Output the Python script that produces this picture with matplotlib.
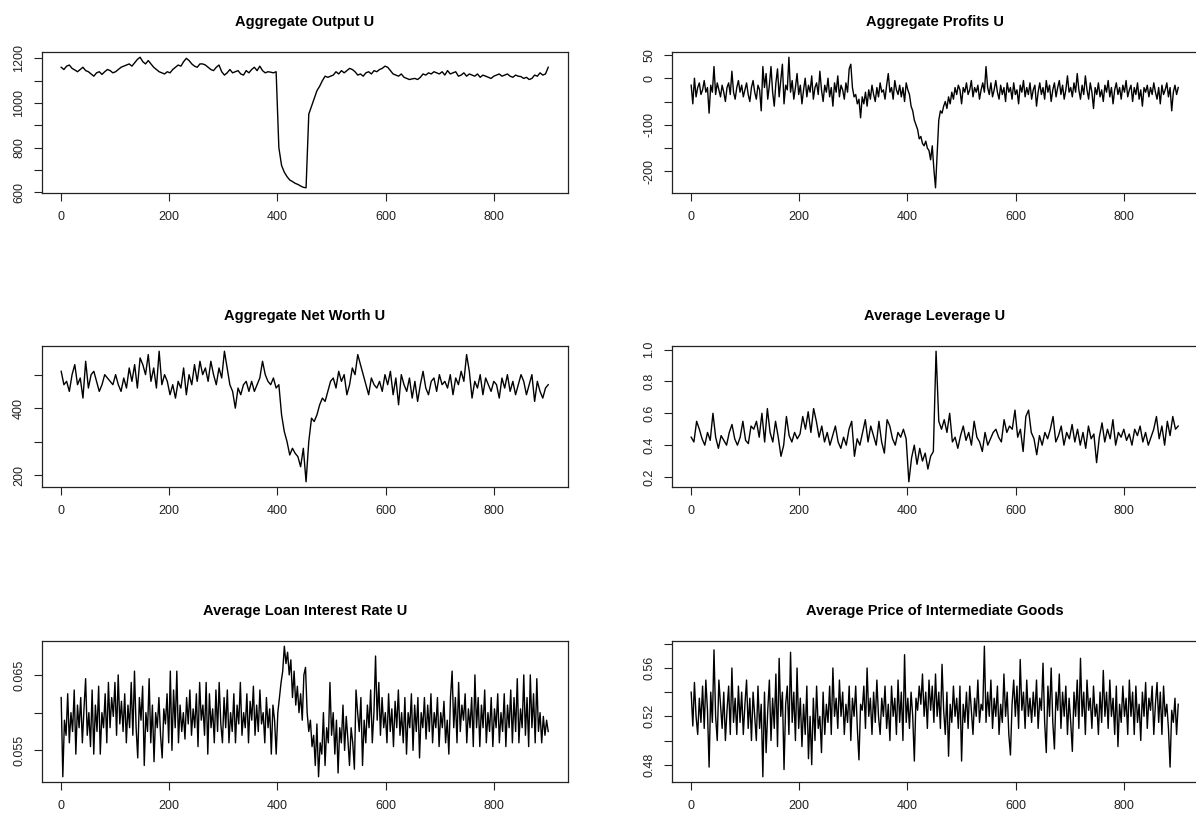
import numpy as np
import matplotlib
matplotlib.use("Agg")
import matplotlib.pyplot as plt
from matplotlib.ticker import FixedLocator, FixedFormatter

plt.rcParams['font.family'] = ['Liberation Sans', 'DejaVu Sans']

# ---------------- data ----------------
# one value per ~5 periods
output_vals = [
    1160, 1150, 1165, 1170, 1155, 1148, 1140, 1150, 1160, 1145,
    1140, 1130, 1120, 1135, 1140, 1128, 1140, 1150, 1145, 1135,
    1140, 1150, 1160, 1165, 1170, 1175, 1165, 1180, 1195, 1205,
    1185, 1175, 1190, 1175, 1160, 1150, 1140, 1135, 1130, 1140,
    1135, 1150, 1160, 1170, 1165, 1185, 1200, 1190, 1175, 1165,
    1160, 1175, 1175, 1170, 1160, 1150, 1145, 1160, 1170, 1140,
    1125, 1135, 1150, 1135, 1140, 1145, 1130, 1125, 1145, 1135,
    1150, 1160, 1145, 1165, 1145, 1135, 1140, 1138, 1135, 1140,
    800, 720, 690, 670, 655, 648, 640, 635, 628, 622,
    620, 950, 985, 1020, 1055, 1075, 1100, 1120, 1115, 1120,
    1125, 1140, 1130, 1145, 1135, 1145, 1155, 1150, 1140, 1125,
    1130, 1120, 1135, 1140, 1130, 1145, 1140, 1150, 1155, 1165,
    1160, 1145, 1130, 1125, 1120, 1130, 1115, 1110, 1105, 1108,
    1110, 1105, 1115, 1130, 1125, 1135, 1130, 1140, 1135, 1130,
    1140, 1125, 1145, 1130, 1135, 1140, 1120, 1125, 1135, 1120,
    1130, 1125, 1120, 1130, 1115, 1125, 1120, 1115, 1110, 1120,
    1125, 1130, 1120, 1125, 1130, 1120, 1115, 1125, 1120, 1118,
    1110, 1115, 1105, 1110, 1125, 1120, 1135, 1125, 1130, 1160,
]

# one value per ~3 periods
profits_vals = [
    -15, -55, 0, -40, -20, -10, -35, -25, -5, -30, -20, -75, -15, -30, 25,
    -35, -10, -25, -40, -15, -30, -50, -20, -10, -35, 15, -30, -45, -20, -5,
    -30, -15, -40, -25, -10, -35, -50, -20, -5, -30, -45, -15, -25, -70, 25,
    -20, 10, -45, -15, 25, -30, -60, -10, 20, -40, -5, 30, -55, -15, -25,
    45, -30, -5, -45, -20, 10, -35, -15, -55, -25, 0, -40, -15, -30, 5,
    -45, -20, -10, -35, 15, -25, -50, -15, -30, 0, -40, -20, -60, -10, -30,
    5, -40, -15, -25, -45, -10, -30, 20, 30, -20, -40, -35, -55, -45, -85,
    -40, -55, -30, -60, -25, -45, -15, -35, -50, -20, -40, -10, -30, -25, -45,
    -15, 10, -30, -20, -45, -5, -25, -35, -15, -40, -20, -50, -10, -25, -35,
    -60, -70, -90, -100, -110, -130, -125, -140, -145, -135, -150, -155, -175, -145, -195,
    -235, -160, -90, -70, -75, -60, -50, -65, -40, -55, -30, -45, -20, -35, -15,
    -25, -55, -20, -30, -10, -35, -25, -5, -40, -20, -30, -15, -45, -25, -10,
    -30, 25, -20, -35, -10, -40, -25, -5, -30, -45, -15, -35, -20, -50, -10,
    -30, -20, -45, -10, -35, -25, -55, -15, -30, -5, -40, -20, -35, -10, -45,
    -25, -15, -60, -30, -10, -35, -20, -45, -5, -30, -15, -50, -25, -10, -40,
    -20, -5, -35, -15, -45, -25, 5, -30, -20, -40, -10, -30, 10, -25, -45,
    -15, -35, 5, -25, -45, -10, -30, -65, -20, -35, -10, -40, -25, -50, -15,
    -30, -5, -40, -20, -55, -25, -10, -35, -20, -45, -15, -30, -5, -40, -25,
    -15, -50, -20, -35, -10, -45, -25, -60, -20, -30, -15, -40, -20, -35, -10,
    -30, -45, -20, -55, -15, -35, -25, -10, -40, -20, -70, -30, -15, -35, -20,
]

# one value per ~5 periods
networth_vals = [
    510, 470, 480, 450, 500, 530, 470, 490, 430, 540,
    460, 500, 510, 480, 450, 470, 500, 490, 480, 470,
    500, 470, 450, 490, 460, 520, 480, 530, 460, 550,
    530, 500, 560, 480, 520, 460, 570, 470, 500, 480,
    440, 470, 430, 480, 460, 520, 440, 500, 470, 530,
    480, 540, 500, 520, 480, 540, 500, 470, 520, 490,
    570, 520, 470, 450, 400, 460, 440, 470, 480, 450,
    480, 450, 470, 490, 540, 500, 480, 470, 490, 460,
    470, 380, 330, 300, 260, 280, 265, 255, 225, 280,
    180, 300, 370, 360, 380, 410, 430, 420, 450, 480,
    490, 460, 510, 480, 500, 440, 470, 520, 500, 560,
    530, 500, 470, 440, 490, 470, 460, 480, 450, 500,
    470, 510, 440, 490, 410, 500, 470, 450, 490, 430,
    480, 420, 470, 510, 460, 440, 480, 490, 450, 500,
    470, 480, 460, 500, 440, 490, 470, 510, 480, 560,
    510, 430, 480, 460, 500, 440, 490, 470, 450, 480,
    470, 430, 490, 460, 500, 450, 480, 440, 470, 500,
    480, 440, 470, 500, 420, 480, 450, 430, 460, 470,
]

# one value per ~5 periods
leverage_vals = [
    0.45, 0.42, 0.55, 0.50, 0.44, 0.40, 0.48, 0.43, 0.60, 0.45,
    0.38, 0.46, 0.43, 0.40, 0.48, 0.53, 0.44, 0.40, 0.45, 0.55,
    0.43, 0.41, 0.52, 0.50, 0.55, 0.45, 0.60, 0.42, 0.63, 0.48,
    0.42, 0.55, 0.45, 0.33, 0.40, 0.58, 0.46, 0.42, 0.48, 0.44,
    0.47, 0.58, 0.50, 0.61, 0.48, 0.63, 0.55, 0.45, 0.52, 0.42,
    0.48, 0.40, 0.46, 0.52, 0.42, 0.38, 0.45, 0.40, 0.50, 0.55,
    0.33, 0.44, 0.40, 0.48, 0.56, 0.42, 0.52, 0.46, 0.40, 0.55,
    0.42, 0.35, 0.56, 0.52, 0.44, 0.40, 0.48, 0.45, 0.50, 0.44,
    0.17, 0.32, 0.40, 0.28, 0.38, 0.30, 0.35, 0.25, 0.33, 0.36,
    0.99, 0.55, 0.50, 0.56, 0.48, 0.60, 0.42, 0.45, 0.38, 0.46,
    0.52, 0.43, 0.48, 0.40, 0.55, 0.45, 0.42, 0.36, 0.48, 0.40,
    0.44, 0.48, 0.50, 0.45, 0.42, 0.56, 0.48, 0.52, 0.50, 0.62,
    0.45, 0.50, 0.36, 0.58, 0.62, 0.48, 0.44, 0.34, 0.46, 0.40,
    0.48, 0.44, 0.50, 0.58, 0.42, 0.46, 0.52, 0.40, 0.48, 0.44,
    0.53, 0.42, 0.50, 0.40, 0.48, 0.38, 0.52, 0.44, 0.47, 0.29,
    0.45, 0.54, 0.42, 0.50, 0.44, 0.56, 0.40, 0.48, 0.45, 0.50,
    0.43, 0.47, 0.40, 0.50, 0.46, 0.52, 0.42, 0.48, 0.40, 0.45,
    0.50, 0.58, 0.44, 0.52, 0.40, 0.55, 0.46, 0.58, 0.50, 0.52,
]

# one value per ~3 periods
interest_vals = [
    0.0620, 0.0515, 0.0590, 0.0570, 0.0625, 0.0560, 0.0600, 0.0575, 0.0630, 0.0545, 0.0610, 0.0580, 0.0620, 0.0560, 0.0605,
    0.0645, 0.0570, 0.0600, 0.0555, 0.0630, 0.0545, 0.0610, 0.0575, 0.0635, 0.0545, 0.0600, 0.0580, 0.0625, 0.0560, 0.0640,
    0.0580, 0.0620, 0.0595, 0.0640, 0.0570, 0.0650, 0.0585, 0.0615, 0.0575, 0.0625, 0.0560, 0.0610, 0.0580, 0.0640, 0.0570,
    0.0655, 0.0580, 0.0540, 0.0620, 0.0590, 0.0635, 0.0530, 0.0600, 0.0575, 0.0645, 0.0560, 0.0610, 0.0535, 0.0600, 0.0580,
    0.0620, 0.0570, 0.0540, 0.0605, 0.0585, 0.0625, 0.0560, 0.0655, 0.0550, 0.0630, 0.0580, 0.0655, 0.0560, 0.0610, 0.0575,
    0.0600, 0.0565, 0.0620, 0.0585, 0.0630, 0.0570, 0.0605, 0.0580, 0.0625, 0.0555, 0.0640, 0.0590, 0.0610, 0.0570, 0.0640,
    0.0545, 0.0625, 0.0580, 0.0605, 0.0560, 0.0630, 0.0575, 0.0640, 0.0585, 0.0560, 0.0620, 0.0580, 0.0630, 0.0560, 0.0600,
    0.0575, 0.0625, 0.0560, 0.0610, 0.0585, 0.0640, 0.0570, 0.0600, 0.0580, 0.0625, 0.0560, 0.0615, 0.0590, 0.0635, 0.0570,
    0.0610, 0.0575, 0.0630, 0.0585, 0.0600, 0.0560, 0.0620, 0.0580, 0.0605, 0.0545, 0.0610, 0.0590, 0.0545, 0.0600, 0.0620,
    0.0640, 0.0655, 0.0688, 0.0665, 0.0680, 0.0650, 0.0670, 0.0620, 0.0655, 0.0610, 0.0635, 0.0600, 0.0625, 0.0590, 0.0650,
    0.0660, 0.0600, 0.0575, 0.0590, 0.0555, 0.0570, 0.0530, 0.0585, 0.0515, 0.0560, 0.0545, 0.0600, 0.0530, 0.0580, 0.0560,
    0.0640, 0.0570, 0.0600, 0.0545, 0.0590, 0.0520, 0.0580, 0.0560, 0.0610, 0.0550, 0.0595, 0.0565, 0.0530, 0.0580, 0.0560,
    0.0525, 0.0630, 0.0600, 0.0575, 0.0620, 0.0530, 0.0590, 0.0560, 0.0610, 0.0580, 0.0630, 0.0560, 0.0600, 0.0675, 0.0590,
    0.0640, 0.0570, 0.0620, 0.0580, 0.0600, 0.0560, 0.0625, 0.0575, 0.0605, 0.0555, 0.0615, 0.0580, 0.0630, 0.0570, 0.0600,
    0.0560, 0.0620, 0.0545, 0.0600, 0.0580, 0.0625, 0.0550, 0.0610, 0.0575, 0.0620, 0.0540, 0.0600, 0.0580, 0.0620, 0.0565,
    0.0610, 0.0575, 0.0625, 0.0560, 0.0600, 0.0580, 0.0620, 0.0555, 0.0600, 0.0580, 0.0615, 0.0560, 0.0590, 0.0545, 0.0620,
    0.0655, 0.0580, 0.0620, 0.0560, 0.0640, 0.0575, 0.0610, 0.0590, 0.0625, 0.0560, 0.0605, 0.0580, 0.0620, 0.0555, 0.0650,
    0.0580, 0.0620, 0.0555, 0.0610, 0.0580, 0.0630, 0.0560, 0.0600, 0.0575, 0.0620, 0.0555, 0.0605, 0.0580, 0.0625, 0.0560,
    0.0600, 0.0575, 0.0625, 0.0555, 0.0610, 0.0580, 0.0630, 0.0560, 0.0620, 0.0575, 0.0645, 0.0560, 0.0605, 0.0580, 0.0650,
    0.0570, 0.0620, 0.0555, 0.0650, 0.0580, 0.0625, 0.0560, 0.0645, 0.0575, 0.0600, 0.0560, 0.0595, 0.0570, 0.0590, 0.0575,
]

# one value per ~3 periods
price_vals = [
    0.540, 0.512, 0.548, 0.520, 0.505, 0.535, 0.515, 0.545, 0.510, 0.550, 0.525, 0.478, 0.540, 0.515, 0.575,
    0.520, 0.500, 0.550, 0.530, 0.510, 0.540, 0.500, 0.525, 0.545, 0.505, 0.560, 0.515, 0.535, 0.505, 0.545,
    0.515, 0.540, 0.505, 0.530, 0.550, 0.510, 0.535, 0.500, 0.540, 0.520, 0.500, 0.545, 0.510, 0.530, 0.470,
    0.540, 0.490, 0.525, 0.550, 0.500, 0.535, 0.510, 0.555, 0.495, 0.568, 0.520, 0.540, 0.476, 0.530, 0.545,
    0.505, 0.573, 0.515, 0.540, 0.500, 0.560, 0.510, 0.535, 0.495, 0.530, 0.505, 0.545, 0.485, 0.520, 0.480,
    0.535, 0.500, 0.545, 0.510, 0.520, 0.490, 0.540, 0.505, 0.530, 0.515, 0.545, 0.505, 0.560, 0.520, 0.535,
    0.510, 0.550, 0.520, 0.540, 0.505, 0.530, 0.515, 0.545, 0.500, 0.535, 0.520, 0.545, 0.510, 0.484, 0.530,
    0.525, 0.545, 0.510, 0.560, 0.520, 0.535, 0.505, 0.540, 0.515, 0.550, 0.520, 0.505, 0.535, 0.520, 0.545,
    0.510, 0.530, 0.500, 0.545, 0.520, 0.535, 0.505, 0.550, 0.515, 0.540, 0.500, 0.571, 0.515, 0.535, 0.510,
    0.540, 0.520, 0.483, 0.535, 0.525, 0.545, 0.530, 0.555, 0.520, 0.540, 0.510, 0.550, 0.525, 0.545, 0.515,
    0.555, 0.520, 0.540, 0.510, 0.563, 0.525, 0.505, 0.540, 0.487, 0.530, 0.515, 0.545, 0.520, 0.535, 0.510,
    0.545, 0.483, 0.530, 0.515, 0.540, 0.510, 0.545, 0.525, 0.505, 0.535, 0.520, 0.550, 0.515, 0.530, 0.525,
    0.578, 0.515, 0.540, 0.520, 0.550, 0.510, 0.535, 0.520, 0.545, 0.505, 0.530, 0.515, 0.555, 0.520, 0.540,
    0.505, 0.488, 0.530, 0.550, 0.520, 0.545, 0.510, 0.567, 0.525, 0.540, 0.510, 0.550, 0.520, 0.535, 0.515,
    0.540, 0.520, 0.550, 0.510, 0.535, 0.525, 0.564, 0.515, 0.490, 0.545, 0.520, 0.560, 0.515, 0.493, 0.540,
    0.525, 0.555, 0.510, 0.540, 0.520, 0.545, 0.505, 0.535, 0.515, 0.491, 0.540, 0.520, 0.550, 0.510, 0.568,
    0.520, 0.540, 0.505, 0.550, 0.525, 0.535, 0.510, 0.545, 0.520, 0.530, 0.505, 0.540, 0.515, 0.558, 0.520,
    0.540, 0.510, 0.550, 0.520, 0.535, 0.505, 0.545, 0.495, 0.530, 0.515, 0.545, 0.520, 0.535, 0.505, 0.550,
    0.520, 0.540, 0.505, 0.545, 0.515, 0.530, 0.500, 0.540, 0.520, 0.548, 0.510, 0.535, 0.525, 0.545, 0.505,
    0.530, 0.548, 0.515, 0.540, 0.505, 0.545, 0.520, 0.530, 0.510, 0.478, 0.525, 0.515, 0.535, 0.505, 0.530,
]

titles = [
    "Aggregate Output U", "Aggregate Profits U",
    "Aggregate Net Worth U", "Average Leverage U",
    "Average Loan Interest Rate U", "Average Price of Intermediate Goods",
]

x_ticks = [0, 200, 400, 600, 800]
x_labels = ["0", "200", "400", "600", "800"]

output_yticks = [600, 700, 800, 900, 1000, 1100, 1200]
output_ylabels = ["600", "", "800", "", "1000", "", "1200"]
profits_yticks = [-200, -150, -100, -50, 0, 50]
profits_ylabels = ["-200", "", "-100", "", "0", "50"]
networth_yticks = [200, 300, 400, 500]
networth_ylabels = ["200", "", "400", ""]
leverage_yticks = [0.2, 0.4, 0.6, 0.8, 1.0]
leverage_ylabels = ["0.2", "0.4", "0.6", "0.8", "1.0"]
interest_yticks = [0.055, 0.060, 0.065]
interest_ylabels = ["0.055", "", "0.065"]
price_yticks = [0.48, 0.50, 0.52, 0.54, 0.56, 0.58]
price_ylabels = ["0.48", "", "0.52", "", "0.56", ""]

series = [output_vals, profits_vals, networth_vals, leverage_vals, interest_vals, price_vals]
yticks = [output_yticks, profits_yticks, networth_yticks, leverage_yticks, interest_yticks, price_yticks]
ylabels = [output_ylabels, profits_ylabels, networth_ylabels, leverage_ylabels, interest_ylabels, price_ylabels]

# ---------------- layout ----------------
W, H = 1196, 814
fig = plt.figure(figsize=(W / 100, H / 100), dpi=100)

col_left = [41.7, 671.7]
box_w = 526
row_top = [52, 346, 641]
box_h = 141

for i, vals in enumerate(series):
    r, c = divmod(i, 2)
    left = col_left[c] / W
    bottom = 1 - (row_top[r] + box_h) / H
    ax = fig.add_axes([left, bottom, box_w / W, box_h / H])
    y = np.asarray(vals, dtype=float)
    x = np.linspace(1, 900, len(y))
    ax.plot(x, y, color="black", linewidth=1.0)
    ax.margins(x=0.04, y=0.04)
    ax.set_title(titles[i], fontsize=10.5, fontweight="bold", pad=19)
    ax.xaxis.set_major_locator(FixedLocator(x_ticks))
    ax.xaxis.set_major_formatter(FixedFormatter(x_labels))
    ax.yaxis.set_major_locator(FixedLocator(yticks[i]))
    ax.yaxis.set_major_formatter(FixedFormatter(ylabels[i]))
    ax.tick_params(axis="both", direction="out", length=6, width=0.8,
                   labelsize=9, colors="#222222")
    ax.tick_params(axis="x", pad=7)
    ax.tick_params(axis="y", pad=6)
    for lab in ax.get_yticklabels():
        lab.set_rotation(90)
        lab.set_va("center")
    for s in ax.spines.values():
        s.set_linewidth(0.9)
        s.set_color("#222222")

fig.savefig("out.png", dpi=100)
